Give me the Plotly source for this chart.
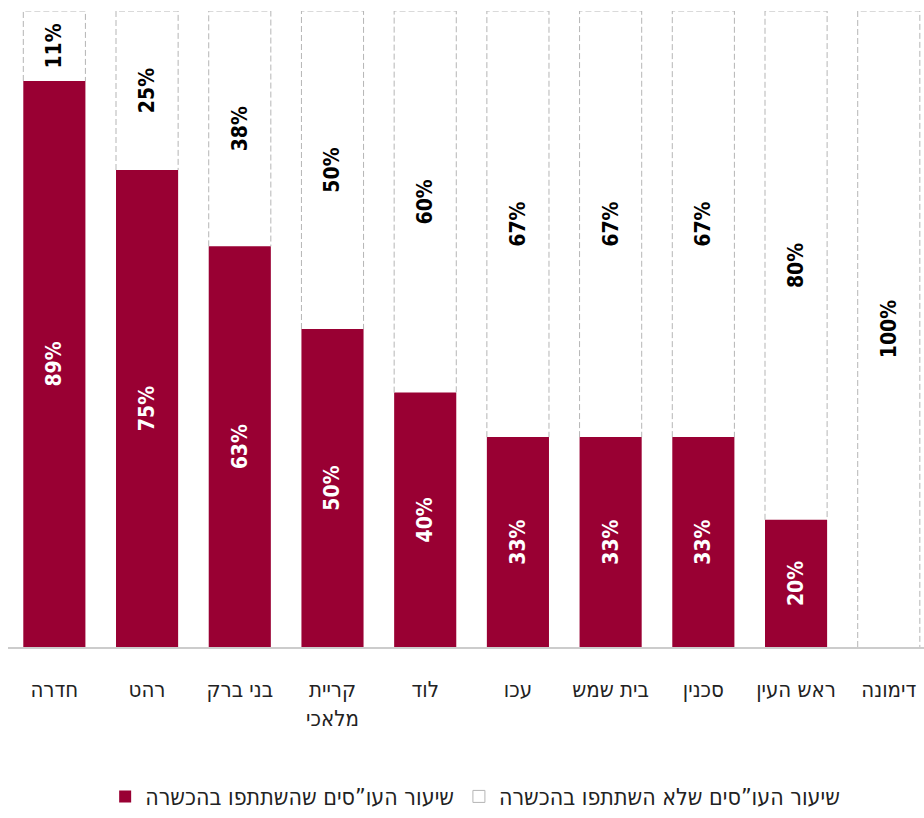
import plotly.graph_objects as go

cities = ["חדרה", "רהט", "בני ברק", "קריית<br>מלאכי", "לוד", "עכו", "בית שמש", "סכנין", "ראש העין", "דימונה"]
participated = [89, 75, 63, 50, 40, 33, 33, 33, 20, 0]
not_participated = [11, 25, 38, 50, 60, 67, 67, 67, 80, 100]

name_part = "שיעור העו”סים שהשתתפו בהכשרה"
name_not = "שיעור העו”סים שלא השתתפו בהכשרה"

RED = "#990033"
DASH_GRAY = "#b5b5b5"
BAR_W = 0.67
xs = list(range(len(cities)))
num_font = "DejaVu Sans Condensed, Liberation Sans Narrow, Roboto, sans-serif"
heb_font = "DejaVu Sans Condensed, DejaVu Sans, Liberation Sans, sans-serif"

fig = go.Figure()

fig.add_trace(go.Bar(
    x=xs, y=participated, width=BAR_W, name=name_part,
    marker=dict(color=RED, line=dict(width=0)),
    text=[f"{v}%" if v > 0 else "" for v in participated],
    textposition="inside", insidetextanchor="middle", textangle=-90,
    textfont=dict(color="white", size=21, family=num_font, weight="bold"),
    hoverinfo="skip",
))

fig.add_trace(go.Bar(
    x=xs, y=[100 - p for p in participated], base=participated, width=BAR_W,
    name=name_not, showlegend=False,
    marker=dict(color="rgba(255,255,255,0)", line=dict(width=0)),
    text=[f"{v}%" for v in not_participated],
    textposition="inside", insidetextanchor="middle", textangle=-90,
    textfont=dict(color="black", size=21, family=num_font, weight="bold"),
    constraintext="none",
    hoverinfo="skip",
))

# legend-only entry for the dashed series
fig.add_trace(go.Bar(
    x=[None], y=[None], name=name_not,
    marker=dict(color="white", line=dict(color=DASH_GRAY, width=1)),
))

shapes = []
for i, p in enumerate(participated):
    x0 = i - BAR_W / 2
    x1 = i + BAR_W / 2
    shapes.append(dict(
        type="path", xref="x", yref="y",
        path=f"M {x0},{p} L {x0},100 L {x1},100 L {x1},{p}",
        line=dict(color=DASH_GRAY, width=1, dash="6px,3px"),
        layer="above",
    ))

fig.update_layout(
    width=924, height=818,
    margin=dict(l=8, r=0, t=11, b=168),
    paper_bgcolor="white", plot_bgcolor="white",
    barmode="overlay",
    showlegend=True,
    shapes=shapes,
    xaxis=dict(
        range=[-0.5, 9.38],
        tickvals=xs, ticktext=cities,
        showgrid=False, zeroline=False,
        showline=True, linecolor="#cccccc", linewidth=1.5,
        ticks="", ticklabelstandoff=22,
        tickfont=dict(size=22, color="#222222", family=heb_font),
        fixedrange=True, automargin=False,
    ),
    yaxis=dict(
        range=[0, 100], visible=False, fixedrange=True,
    ),
    legend=dict(
        orientation="h", x=0.51, xanchor="center",
        y=-0.235, yanchor="middle",
        font=dict(size=23, color="#222222", family=heb_font),
        itemwidth=30, traceorder="normal",
    ),
    font=dict(family=heb_font),
)

fig.write_html("out.html", config={"displayModeBar": False},
               post_script="document.body.style.margin='0';")
